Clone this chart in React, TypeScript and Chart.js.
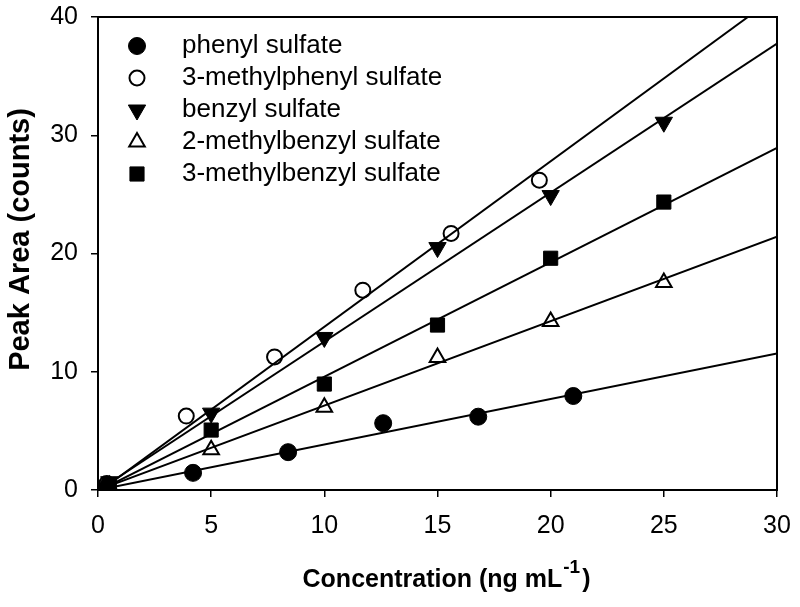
import React, { useEffect, useRef } from "react";
import { Chart, registerables } from "chart.js";

Chart.register(...registerables);

// ---- data ----
const seriesNames = [
  "phenyl sulfate",
  "3-methylphenyl sulfate",
  "benzyl sulfate",
  "2-methylbenzyl sulfate",
  "3-methylbenzyl sulfate",
];

const phenylX = [0.42, 4.2, 8.4, 12.6, 16.8, 21.0];
const phenylY = [0.3, 1.45, 3.2, 5.65, 6.2, 7.95];

const methylphenyl3X = [0.39, 3.9, 7.8, 11.7, 15.6, 19.5];
const methylphenyl3Y = [0.55, 6.25, 11.25, 16.9, 21.7, 26.2];

const benzylX = [0.5, 5, 10, 15, 20, 25];
const benzylY = [0.7, 6.5, 12.9, 20.5, 24.9, 31.1];

const methylbenzyl2X = [0.5, 5, 10, 15, 20, 25];
const methylbenzyl2Y = [0.35, 3.4, 7.0, 11.2, 14.25, 17.55];

const methylbenzyl3X = [0.5, 5, 10, 15, 20, 25];
const methylbenzyl3Y = [0.45, 5.07, 8.96, 13.95, 19.6, 24.35];

// regression lines (slope, intercept)
const fitSlopes = [0.385, 1.4, 1.26, 0.714, 0.968];
const fitIntercepts = [0.0, -0.2, -0.05, 0.0, -0.1];

const xTicks = [0, 5, 10, 15, 20, 25, 30];
const yTicks = [0, 10, 20, 30, 40];
const xMin = 0, xMax = 30, yMin = 0, yMax = 40;

const FONT = '"Liberation Sans", Arial, Helvetica, sans-serif';

type Marker = { style: string; radius: number; fill: string; border: number; rotation: number };

const markers: Marker[] = [
  { style: "circle", radius: 8.5, fill: "#000", border: 1, rotation: 0 },
  { style: "circle", radius: 7.5, fill: "rgba(0,0,0,0)", border: 2, rotation: 0 },
  { style: "triangle", radius: 10, fill: "#000", border: 1, rotation: 180 },
  { style: "triangle", radius: 9, fill: "rgba(0,0,0,0)", border: 2, rotation: 0 },
  { style: "rect", radius: 10, fill: "#000", border: 1, rotation: 0 },
];

function drawMarker(ctx: CanvasRenderingContext2D, m: Marker, x: number, y: number) {
  ctx.save();
  ctx.beginPath();
  const r = m.radius;
  if (m.style === "circle") {
    ctx.arc(x, y, r, 0, Math.PI * 2);
  } else if (m.style === "triangle") {
    let rad = (m.rotation * Math.PI) / 180;
    ctx.moveTo(x + Math.sin(rad) * r, y - Math.cos(rad) * r);
    rad += (2 * Math.PI) / 3;
    ctx.lineTo(x + Math.sin(rad) * r, y - Math.cos(rad) * r);
    rad += (2 * Math.PI) / 3;
    ctx.lineTo(x + Math.sin(rad) * r, y - Math.cos(rad) * r);
    ctx.closePath();
  } else {
    const s = Math.SQRT1_2 * r;
    ctx.rect(x - s, y - s, 2 * s, 2 * s);
  }
  ctx.fillStyle = m.fill;
  ctx.fill();
  ctx.lineWidth = m.border;
  ctx.strokeStyle = "#000";
  ctx.stroke();
  ctx.restore();
}

export default function App() {
  const ref = useRef<HTMLCanvasElement>(null);

  useEffect(() => {
    const canvas = ref.current;
    if (!canvas) return;

    const xs = [phenylX, methylphenyl3X, benzylX, methylbenzyl2X, methylbenzyl3X];
    const ys = [phenylY, methylphenyl3Y, benzylY, methylbenzyl2Y, methylbenzyl3Y];

    const lineSets = fitSlopes.map((m, i) => {
      const b = fitIntercepts[i];
      const xEnd = Math.min(xMax, (yMax - b) / m);
      return {
        label: seriesNames[i] + " fit",
        data: [
          { x: xMin, y: b + m * xMin },
          { x: xEnd, y: b + m * xEnd },
        ],
        showLine: true,
        borderColor: "#000",
        borderWidth: 2,
        pointRadius: 0,
        pointHoverRadius: 0,
        fill: false,
        order: 1,
      };
    });

    const pointSets = seriesNames.map((name, i) => ({
      label: name,
      data: xs[i].map((x, j) => ({ x, y: ys[i][j] })),
      showLine: false,
      pointStyle: markers[i].style,
      pointRadius: markers[i].radius,
      pointHoverRadius: markers[i].radius,
      pointRotation: markers[i].rotation,
      pointBackgroundColor: markers[i].fill,
      pointBorderColor: "#000",
      pointBorderWidth: markers[i].border,
      order: 0,
    }));

    const decor = {
      id: "decor",
      afterDatasetsDraw(chart: any) {
        const ctx: CanvasRenderingContext2D = chart.ctx;
        const a = chart.chartArea;
        ctx.save();
        // frame
        ctx.strokeStyle = "#000";
        ctx.lineWidth = 2;
        ctx.strokeRect(a.left, a.top, a.right - a.left, a.bottom - a.top);

        // legend inside plot
        ctx.font = `26px ${FONT}`;
        ctx.fillStyle = "#000";
        ctx.textAlign = "left";
        ctx.textBaseline = "middle";
        seriesNames.forEach((name, i) => {
          const y = a.top + 29 + 32 * i;
          drawMarker(ctx, markers[i], a.left + 39, y);
          ctx.fillStyle = "#000";
          ctx.fillText(name, a.left + 84, y);
        });

        // y-axis title
        ctx.save();
        ctx.translate(a.left - 77, (a.top + a.bottom) / 2 - 14);
        ctx.rotate(-Math.PI / 2);
        ctx.font = `bold 29px ${FONT}`;
        ctx.textAlign = "center";
        ctx.textBaseline = "middle";
        ctx.fillStyle = "#000";
        ctx.fillText("Peak Area (counts)", 0, 0);
        ctx.restore();

        // x-axis title with superscript
        const main = "Concentration (ng mL";
        const sup = "-1";
        const close = ")";
        const mainFont = `bold 25px ${FONT}`;
        const supFont = `bold 19px ${FONT}`;
        ctx.font = mainFont;
        const wMain = ctx.measureText(main).width;
        const wClose = ctx.measureText(close).width;
        ctx.font = supFont;
        const wSup = ctx.measureText(sup).width;
        const total = wMain + 1 + wSup + 2 + wClose;
        const cx = (a.left + a.right) / 2 + 9;
        let x0 = cx - total / 2;
        const base = a.bottom + 97;
        ctx.textAlign = "left";
        ctx.textBaseline = "alphabetic";
        ctx.fillStyle = "#000";
        ctx.font = mainFont;
        ctx.fillText(main, x0, base);
        x0 += wMain + 1;
        ctx.font = supFont;
        ctx.fillText(sup, x0, base - 14);
        x0 += wSup + 2;
        ctx.font = mainFont;
        ctx.fillText(close, x0, base);
        ctx.restore();
      },
    };

    const chart = new Chart(canvas, {
      type: "scatter",
      data: { datasets: [...lineSets, ...pointSets] as any },
      options: {
        responsive: false,
        animation: false,
        events: [],
        layout: { autoPadding: false, padding: { top: 17, right: 23, left: 0, bottom: 0 } },
        plugins: {
          legend: { display: false },
          tooltip: { enabled: false },
          title: { display: false },
        },
        scales: {
          x: {
            type: "linear",
            min: xMin,
            max: xMax,
            afterBuildTicks: (s: any) => {
              s.ticks = xTicks.map((v) => ({ value: v }));
            },
            afterFit: (s: any) => {
              s.height = 117;
              s.paddingLeft = 0;
              s.paddingRight = 0;
            },
            ticks: {
              autoSkip: false,
              maxRotation: 0,
              padding: 14,
              color: "#000",
              font: { family: FONT, size: 25 },
            },
            grid: {
              drawOnChartArea: false,
              drawTicks: true,
              tickLength: 7,
              lineWidth: 1.5,
              color: "#000",
            },
            border: { display: false },
          },
          y: {
            type: "linear",
            min: yMin,
            max: yMax,
            afterBuildTicks: (s: any) => {
              s.ticks = yTicks.map((v) => ({ value: v }));
            },
            afterFit: (s: any) => {
              s.width = 98;
              s.paddingTop = 0;
              s.paddingBottom = 0;
            },
            ticks: {
              autoSkip: false,
              padding: 13,
              color: "#000",
              font: { family: FONT, size: 25 },
            },
            grid: {
              drawOnChartArea: false,
              drawTicks: true,
              tickLength: 7,
              lineWidth: 1.5,
              color: "#000",
            },
            border: { display: false },
          },
        },
      },
      plugins: [decor],
    });

    return () => chart.destroy();
  }, []);

  return (
    <div style={{ position: "fixed", left: 0, top: 0, width: 800, height: 607, background: "#fff" }}>
      <canvas ref={ref} width={800} height={607} style={{ display: "block", width: 800, height: 607 }} />
    </div>
  );
}
